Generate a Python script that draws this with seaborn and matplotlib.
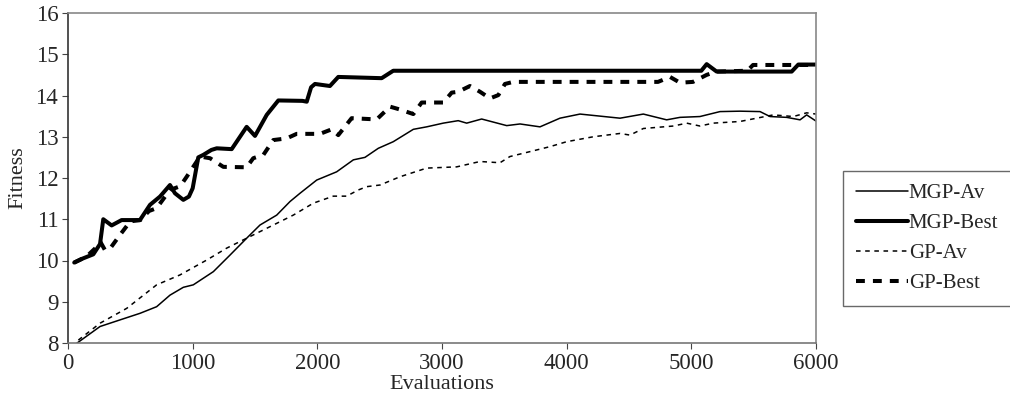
import matplotlib
matplotlib.use("Agg")
import matplotlib.pyplot as plt
import seaborn as sns
import pandas as pd

# ---- data ----
mgp_best_x = [50, 120, 203, 257, 283, 350, 430, 577, 658, 738, 818, 858, 925, 970, 1000,
              1045, 1085, 1150, 1193, 1313, 1433, 1500, 1594, 1687, 1880, 1915, 1950, 1981,
              2101, 2168, 2516, 2609, 5080, 5123, 5203, 5805, 5858, 6000]
mgp_best_y = [9.95, 10.05, 10.15, 10.40, 11.00, 10.85, 10.98, 10.98, 11.35, 11.55, 11.83, 11.63,
              11.47, 11.55, 11.75, 12.50, 12.56, 12.68, 12.72, 12.70, 13.24, 13.02, 13.53, 13.88,
              13.87, 13.85, 14.20, 14.28, 14.23, 14.45, 14.42, 14.60, 14.60, 14.76, 14.58, 14.58,
              14.75, 14.75]

gp_best_x = [50, 150, 220, 260, 297, 340, 417, 500, 580, 650, 711, 818, 900, 952, 1059, 1139,
             1246, 1433, 1486, 1567, 1647, 1754, 1834, 2021, 2115, 2168, 2275, 2476, 2583, 2663,
             2770, 2837, 3010, 3078, 3130, 3224, 3305, 3385, 3452, 3505, 3572, 4733, 4829, 4909,
             5013, 5123, 5200, 5450, 5495, 6000]
gp_best_y = [9.95, 10.10, 10.30, 10.45, 10.25, 10.30, 10.62, 10.95, 10.98, 11.20, 11.27, 11.71,
             11.80, 12.03, 12.52, 12.48, 12.27, 12.26, 12.48, 12.56, 12.92, 12.96, 13.07, 13.07,
             13.18, 13.04, 13.45, 13.42, 13.73, 13.66, 13.55, 13.83, 13.83, 14.07, 14.09, 14.23,
             14.09, 13.93, 14.01, 14.28, 14.33, 14.33, 14.45, 14.31, 14.33, 14.50, 14.58, 14.60,
             14.74, 14.74]

mgp_av_x = [69, 257, 417, 578, 711, 818, 925, 1005, 1166, 1299, 1433, 1540, 1674, 1781, 1861,
            1995, 2155, 2289, 2382, 2489, 2609, 2770, 2877, 3010, 3130, 3198, 3318, 3519, 3626,
            3786, 3946, 4107, 4428, 4615, 4802, 4909, 5069, 5230, 5390, 5551, 5631, 5765, 5872,
            5925, 6000]
mgp_av_y = [7.99, 8.40, 8.56, 8.72, 8.88, 9.16, 9.35, 9.41, 9.73, 10.13, 10.54, 10.86, 11.10,
            11.43, 11.63, 11.95, 12.15, 12.44, 12.50, 12.72, 12.88, 13.18, 13.24, 13.33, 13.39,
            13.33, 13.43, 13.27, 13.31, 13.24, 13.45, 13.55, 13.45, 13.55, 13.41, 13.47, 13.49,
            13.61, 13.62, 13.61, 13.49, 13.47, 13.41, 13.53, 13.38]

gp_av_x = [83, 257, 471, 711, 898, 1112, 1273, 1433, 1647, 1807, 1968, 2128, 2235, 2329, 2396,
           2503, 2663, 2877, 3118, 3305, 3465, 3545, 3733, 3866, 4000, 4214, 4428, 4508, 4615,
           4856, 4963, 5069, 5176, 5390, 5524, 5658, 5818, 5925, 6000]
gp_av_y = [8.07, 8.48, 8.84, 9.41, 9.65, 10.01, 10.30, 10.54, 10.86, 11.10, 11.39, 11.56, 11.56,
           11.71, 11.79, 11.83, 12.03, 12.24, 12.27, 12.40, 12.37, 12.52, 12.66, 12.76, 12.88,
           13.00, 13.08, 13.04, 13.20, 13.26, 13.33, 13.26, 13.33, 13.37, 13.45, 13.53, 13.49,
           13.58, 13.55]

x_ticks = [0, 1000, 2000, 3000, 4000, 5000, 6000]
y_ticks = [8, 9, 10, 11, 12, 13, 14, 15, 16]
series_names = ["MGP-Av", "MGP-Best", "GP-Av", "GP-Best"]

# ---- style ----
sns.set_style("white")
plt.rcParams["font.family"] = ["Liberation Serif", "DejaVu Serif"]
plt.rcParams["font.size"] = 16

fig = plt.figure(figsize=(10.10, 4.01), dpi=100)
ax = fig.add_axes([68 / 1010, 58 / 401, (816 - 68) / 1010, (343 - 13) / 401])

series = [
    (mgp_av_x, mgp_av_y, dict(lw=1.1, linestyle="-")),
    (mgp_best_x, mgp_best_y, dict(lw=2.9, linestyle="-")),
    (gp_av_x, gp_av_y, dict(lw=1.1, linestyle=(0, (3.0, 3.0)))),
    (gp_best_x, gp_best_y, dict(lw=2.9, linestyle=(0, (2.2, 2.0)))),
]
for name, (xs, ys, st) in zip(series_names, series):
    df = pd.DataFrame({"Evaluations": xs, "Fitness": ys})
    sns.lineplot(data=df, x="Evaluations", y="Fitness", ax=ax, color="black",
                 label=name, estimator=None, sort=False, **st)

ax.set_xlim(0, 6000)
ax.set_ylim(8, 16)
ax.set_xticks(x_ticks)
ax.set_yticks(y_ticks)
ax.set_xlabel("Evaluations", fontsize=16, labelpad=1)
ax.set_ylabel("Fitness", fontsize=16, labelpad=6)
ax.tick_params(axis="both", direction="out", length=4, width=0.8, color="#444444",
               labelsize=16.5, pad=3, left=True, bottom=True)

for side, col in [("left", "#333333"), ("bottom", "#777777"), ("top", "#888888"), ("right", "#888888")]:
    ax.spines[side].set_visible(True)
    ax.spines[side].set_color(col)
    ax.spines[side].set_linewidth(1.2)

handles, labels = ax.get_legend_handles_labels()
ax.get_legend().remove()
leg = fig.legend(handles, labels, loc="center left", bbox_to_anchor=(843 / 1010, 1 - 238.5 / 401),
                 frameon=True, fancybox=False, edgecolor="#444444", fontsize=15,
                 handlelength=2.5, handletextpad=0.05, labelspacing=0.5, borderpad=0.6,
                 borderaxespad=0)
leg.get_frame().set_linewidth(1.0)

fig.savefig("out.png", dpi=100, facecolor="white")
